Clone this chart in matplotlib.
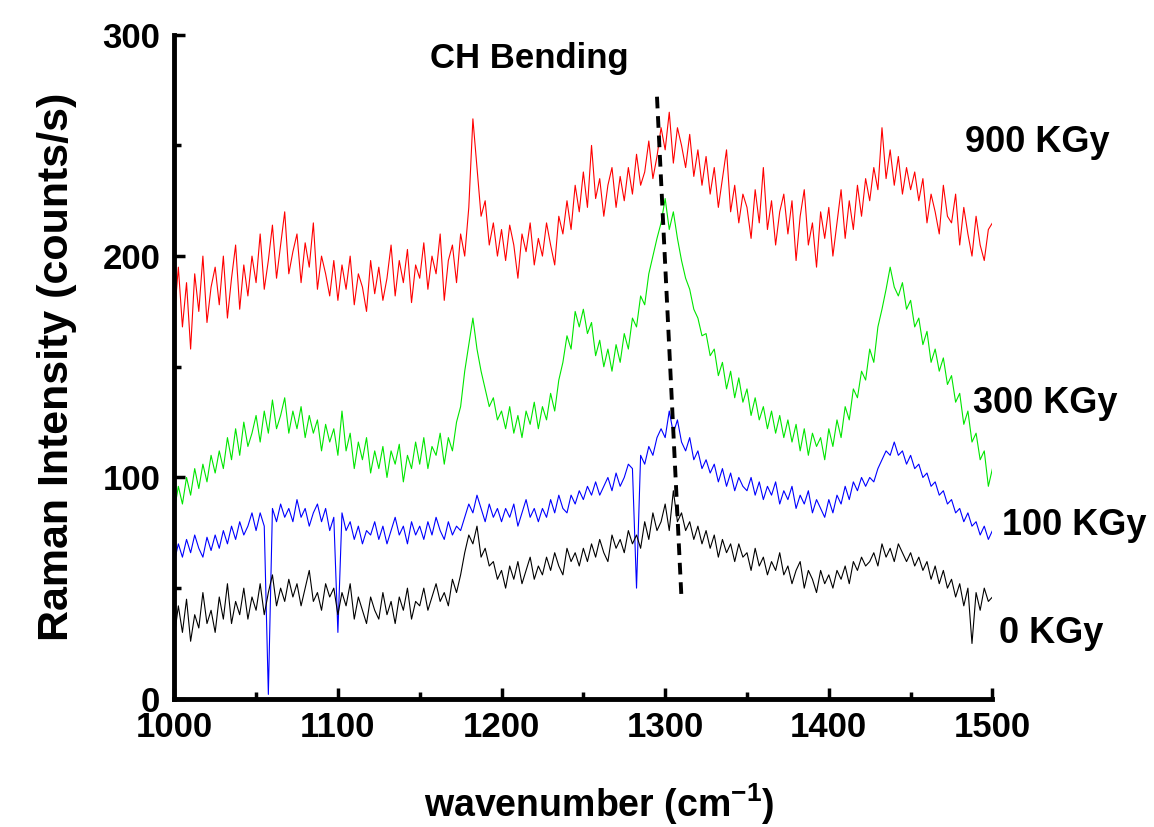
import numpy as np
import matplotlib
matplotlib.use("Agg")
import matplotlib.pyplot as plt
from matplotlib.ticker import MultipleLocator

# wavenumber grid (cm-1), one point every 2.5
wavenumber = np.arange(1000, 1502.5, 2.5)

# intensities (counts/s)
dose_900 = [
    172, 195, 168, 188, 158, 192, 175, 200, 170, 186,
    195, 178, 200, 172, 190, 205, 176, 196, 182, 200,
    188, 210, 185, 198, 214, 190, 205, 220, 192, 202,
    210, 188, 206, 195, 215, 185, 200, 192, 182, 198,
    180, 196, 185, 200, 178, 192, 186, 175, 198, 183,
    195, 180, 190, 205, 182, 198, 188, 203, 179, 196,
    190, 206, 185, 200, 192, 210, 180, 198, 205, 188,
    210, 200, 222, 262, 240, 218, 225, 205, 215, 200,
    212, 198, 214, 205, 190, 210, 202, 215, 196, 208,
    200, 215, 205, 196, 218, 210, 225, 212, 232, 220,
    238, 222, 250, 226, 235, 218, 232, 240, 222, 236,
    225, 240, 228, 246, 232, 238, 252, 235, 245, 258,
    248, 265, 242, 258, 250, 240, 255, 236, 248, 232,
    245, 228, 240, 222, 235, 248, 220, 232, 215, 228,
    222, 208, 230, 215, 240, 212, 225, 205, 220, 228,
    210, 225, 198, 218, 230, 205, 215, 195, 220, 208,
    222, 200, 215, 230, 208, 225, 212, 232, 218, 235,
    225, 240, 230, 258, 235, 248, 232, 245, 228, 240,
    230, 238, 225, 235, 215, 228, 220, 210, 232, 218,
    215, 228, 205, 222, 210, 200, 218, 205, 198, 212,
    215,
]
dose_300 = [
    85, 96, 88, 100, 92, 104, 95, 106, 98, 110,
    102, 112, 104, 118, 108, 122, 110, 125, 114, 120,
    128, 116, 130, 120, 135, 122, 128, 136, 120, 130,
    122, 132, 118, 128, 120, 126, 112, 124, 116, 122,
    110, 130, 112, 120, 104, 116, 108, 118, 102, 112,
    104, 114, 100, 112, 106, 115, 98, 110, 104, 116,
    106, 118, 104, 114, 110, 120, 106, 118, 112, 125,
    132, 148, 160, 172, 158, 148, 140, 132, 136, 126,
    130, 122, 132, 120, 128, 118, 130, 124, 134, 122,
    132, 126, 138, 130, 144, 152, 164, 158, 175, 168,
    176, 165, 170, 155, 162, 150, 158, 148, 160, 152,
    165, 158, 172, 168, 182, 178, 192, 200, 208, 215,
    226, 212, 220, 208, 198, 190, 185, 176, 172, 164,
    165, 155, 158, 146, 152, 140, 148, 136, 145, 134,
    140, 128, 136, 126, 132, 122, 130, 120, 128, 118,
    126, 116, 124, 112, 122, 110, 120, 114, 118, 108,
    122, 114, 126, 118, 132, 126, 140, 136, 148, 144,
    158, 152, 168, 176, 185, 195, 186, 182, 188, 176,
    180, 168, 172, 160, 166, 152, 158, 148, 154, 142,
    146, 134, 138, 124, 130, 116, 120, 108, 112, 96,
    104,
]
dose_100 = [
    62, 70, 64, 72, 66, 74, 68, 64, 73, 67,
    74, 68, 76, 70, 78, 72, 80, 74, 78, 84,
    76, 84, 78, 2, 86, 80, 88, 82, 86, 80,
    90, 82, 86, 78, 84, 88, 80, 86, 76, 82,
    30, 84, 76, 80, 72, 78, 70, 76, 74, 80,
    72, 78, 70, 76, 82, 74, 78, 70, 80, 74,
    78, 72, 80, 74, 82, 76, 72, 80, 74, 78,
    76, 82, 88, 84, 92, 86, 80, 88, 82, 86,
    80, 86, 82, 88, 78, 84, 90, 82, 86, 80,
    86, 82, 90, 84, 92, 86, 84, 92, 88, 94,
    90, 96, 92, 98, 92, 96, 100, 94, 102, 96,
    100, 106, 104, 50, 110, 106, 114, 110, 118, 122,
    118, 130, 120, 126, 116, 112, 118, 108, 112, 104,
    108, 102, 106, 98, 104, 96, 102, 94, 100, 96,
    94, 100, 92, 98, 90, 96, 92, 98, 88, 94,
    90, 96, 86, 92, 88, 94, 84, 90, 86, 82,
    90, 84, 92, 88, 96, 90, 98, 94, 100, 96,
    100, 98, 104, 108, 112, 110, 116, 110, 112, 106,
    110, 104, 106, 100, 102, 96, 98, 92, 94, 88,
    90, 84, 86, 80, 84, 78, 80, 74, 78, 72,
    76,
]
dose_0 = [
    28, 42, 30, 45, 26, 38, 32, 48, 34, 40,
    30, 46, 36, 52, 34, 44, 38, 50, 36, 46,
    40, 52, 38, 48, 56, 42, 50, 44, 54, 46,
    52, 42, 50, 58, 44, 48, 40, 52, 46, 50,
    38, 48, 42, 52, 36, 46, 40, 34, 46, 40,
    36, 48, 38, 44, 34, 46, 40, 50, 36, 44,
    42, 50, 40, 46, 52, 44, 48, 42, 54, 48,
    56, 66, 74, 70, 78, 64, 68, 60, 62, 54,
    58, 50, 60, 54, 62, 52, 58, 64, 54, 60,
    56, 64, 58, 66, 60, 56, 68, 62, 66, 60,
    68, 62, 70, 64, 72, 66, 62, 74, 68, 72,
    66, 76, 70, 74, 68, 80, 72, 84, 76, 80,
    88, 76, 94, 80, 84, 76, 80, 72, 78, 70,
    76, 68, 74, 64, 72, 66, 70, 62, 70, 64,
    66, 58, 68, 60, 64, 56, 62, 58, 66, 56,
    60, 52, 58, 62, 50, 58, 54, 48, 58, 52,
    56, 50, 58, 54, 60, 52, 62, 58, 64, 60,
    62, 66, 60, 70, 64, 68, 62, 70, 66, 62,
    66, 60, 64, 58, 62, 54, 60, 52, 58, 50,
    54, 46, 52, 42, 50, 25, 48, 40, 50, 44,
    46,
]

series_labels = ["900 KGy", "300 KGy", "100 KGy", "0 KGy"]
series_colors = ["#ff0000", "#00e600", "#0000ff", "#000000"]
# label anchor (left edge, baseline) in data units
label_pos = [(1483, 247), (1488, 129), (1506, 74), (1504, 25)]

# guide line through the CH bending peak
guide_x = [1295, 1310]
guide_y = [272, 45]

plt.rcParams["font.family"] = ["Liberation Sans", "DejaVu Sans"]
plt.rcParams["font.weight"] = "bold"
plt.rcParams["mathtext.fontset"] = "custom"
plt.rcParams["mathtext.bf"] = "Liberation Sans:bold"

fig = plt.figure(figsize=(11.54, 8.27), dpi=100)
ax = fig.add_axes([0.151, 0.155, 0.709, 0.803])

for y, c in zip([dose_900, dose_300, dose_100, dose_0], series_colors):
    ax.plot(wavenumber, y, color=c, lw=0.8)

ax.plot(guide_x, guide_y, color="black", lw=2.8, linestyle=(0, (3, 2)))

for lab, (tx, ty) in zip(series_labels, label_pos):
    ax.text(tx, ty, lab, fontsize=26, fontweight="bold", va="baseline", ha="left", clip_on=False)

ax.text(1217, 285, "CH Bending", fontsize=25, fontweight="bold", ha="center", va="baseline")

ax.set_xlim(1000, 1500)
ax.set_ylim(0, 300)
ax.xaxis.set_major_locator(MultipleLocator(100))
ax.xaxis.set_minor_locator(MultipleLocator(50))
ax.yaxis.set_major_locator(MultipleLocator(100))
ax.yaxis.set_minor_locator(MultipleLocator(50))

for s in ["top", "right"]:
    ax.spines[s].set_visible(False)
for s in ["left", "bottom"]:
    ax.spines[s].set_linewidth(3.5)

ax.tick_params(which="major", direction="in", length=8, width=2.5, labelsize=25)
ax.tick_params(axis="x", which="major", pad=9)
ax.tick_params(axis="y", which="major", pad=10)
ax.tick_params(which="minor", direction="in", length=5, width=2.5)
for t in ax.get_xticklabels() + ax.get_yticklabels():
    t.set_fontweight("bold")

ax.set_xlabel("wavenumber (cm$^{\\mathbf{-1}}$)", fontsize=27, fontweight="bold")
ax.xaxis.set_label_coords(0.519, -0.125)
ax.set_ylabel("Raman Intensity (counts/s)", fontsize=31, fontweight="bold", labelpad=18)

fig.savefig("out.png", dpi=100)
